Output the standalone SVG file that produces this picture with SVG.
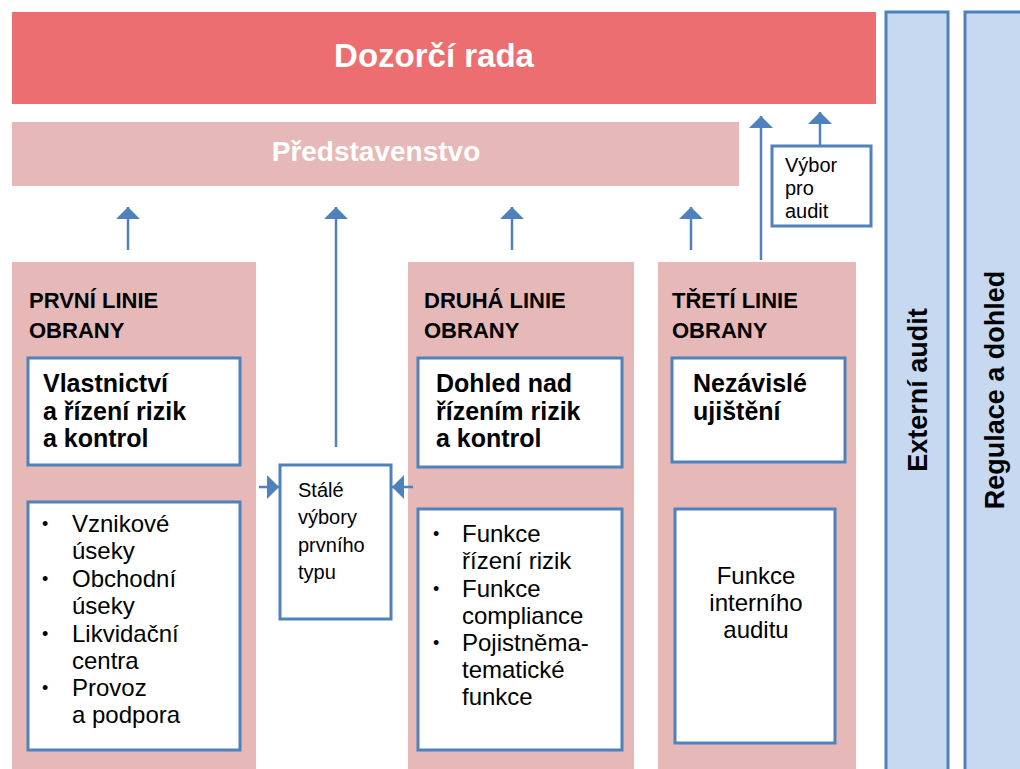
<svg xmlns="http://www.w3.org/2000/svg" width="1020" height="769" viewBox="0 0 1020 769">
<style>
text{font-family:"Liberation Sans",Arial,sans-serif;fill:#000}
.panel{fill:#E6B8B7}
.box{fill:#fff;stroke:#4F81BD;stroke-width:3}
.col{fill:#C6D9F1;stroke:#4F81BD;stroke-width:3}
.conn{stroke:#4F81BD;stroke-width:2.5;fill:none;marker-end:url(#ah)}
.head{font-weight:bold;font-size:22px}
.title{font-weight:bold;font-size:25px}
.item{font-size:24px}
.bul{font-size:18px}
.small{font-size:20px}
</style>
<defs>
<marker id="ah" markerUnits="userSpaceOnUse" markerWidth="24" markerHeight="24" viewBox="0 0 24 24" refX="12" refY="12" orient="auto">
<path d="M0,0 L12,12 L0,24 Z" fill="#4F81BD"/>
</marker>
</defs>
<g id="dozorci-rada">
<rect x="12" y="12" width="864" height="92" fill="#EC6E70"/>
<text x="434" y="67" text-anchor="middle" style="font-weight:bold;font-size:33px;fill:#fff">Dozorčí rada</text>
</g>
<g id="predstavenstvo">
<rect x="12" y="122" width="727" height="64" fill="#E6B8B7"/>
<text x="376" y="161" text-anchor="middle" style="font-weight:bold;font-size:28px;fill:#fff">Představenstvo</text>
</g>
<g id="externi-audit">
<rect class="col" x="886" y="12" width="62" height="770"/>
<text transform="translate(927,390) rotate(-90)" text-anchor="middle" style="font-weight:bold;font-size:27px">Externí audit</text>
</g>
<g id="regulace">
<rect class="col" x="965" y="12" width="70" height="770"/>
<text transform="translate(1004,390) rotate(-90)" text-anchor="middle" style="font-weight:bold;font-size:27px">Regulace a dohled</text>
</g>
<g id="vybor-pro-audit">
<rect class="box" x="772" y="146" width="99" height="80" stroke-width="2.5"/>
<text class="small" x="785" y="172">Výbor</text>
<text class="small" x="785" y="195">pro</text>
<text class="small" x="785" y="218">audit</text>
</g>
<g id="prvni-linie">
<rect class="panel" x="12" y="262" width="244" height="510"/>
<text class="head" x="29" y="308">PRVNÍ LINIE</text>
<text class="head" x="29" y="338">OBRANY</text>
</g>
<g id="vlastnictvi">
<rect class="box" x="28" y="358" width="212" height="107"/>
<text class="title" x="43" y="392">Vlastnictví</text>
<text class="title" x="43" y="420">a řízení rizik</text>
<text class="title" x="43" y="447">a kontrol</text>
</g>
<g id="prvni-seznam">
<rect class="box" x="28" y="502" width="212" height="248"/>
<g class="item">
<text class="bul" x="42" y="530">•</text><text x="72" y="532">Vznikové</text>
<text x="72" y="559">úseky</text>
<text class="bul" x="42" y="585">•</text><text x="72" y="587">Obchodní</text>
<text x="72" y="614">úseky</text>
<text class="bul" x="42" y="640">•</text><text x="72" y="642">Likvidační</text>
<text x="72" y="669">centra</text>
<text class="bul" x="42" y="694">•</text><text x="72" y="696">Provoz</text>
<text x="72" y="723">a podpora</text>
</g>
</g>
<g id="stale-vybory">
<rect class="box" x="280" y="465" width="111" height="154" stroke-width="2.5"/>
<text class="small" x="298" y="497">Stálé</text>
<text class="small" x="298" y="524">výbory</text>
<text class="small" x="298" y="552">prvního</text>
<text class="small" x="298" y="579">typu</text>
</g>
<g id="druha-linie">
<rect class="panel" x="408" y="262" width="226" height="510"/>
<text class="head" x="424" y="308">DRUHÁ LINIE</text>
<text class="head" x="424" y="338">OBRANY</text>
</g>
<g id="dohled">
<rect class="box" x="418" y="358" width="204" height="109"/>
<text class="title" x="436" y="392">Dohled nad</text>
<text class="title" x="436" y="420">řízením rizik</text>
<text class="title" x="436" y="447">a kontrol</text>
</g>
<g id="druha-seznam">
<rect class="box" x="418" y="509" width="204" height="241"/>
<g class="item">
<text class="bul" x="433" y="540">•</text><text x="462" y="542">Funkce</text>
<text x="462" y="569">řízení rizik</text>
<text class="bul" x="433" y="595">•</text><text x="462" y="597">Funkce</text>
<text x="462" y="624">compliance</text>
<text class="bul" x="433" y="649">•</text><text x="462" y="651">Pojistněma-</text>
<text x="462" y="678">tematické</text>
<text x="462" y="705">funkce</text>
</g>
</g>
<g id="treti-linie">
<rect class="panel" x="658" y="262" width="198" height="510"/>
<text class="head" x="672" y="308">TŘETÍ LINIE</text>
<text class="head" x="672" y="338">OBRANY</text>
</g>
<g id="nezavisle">
<rect class="box" x="672" y="358" width="173" height="104"/>
<text class="title" x="693" y="392">Nezávislé</text>
<text class="title" x="693" y="420">ujištění</text>
</g>
<g id="interni-audit">
<rect class="box" x="675" y="509" width="160" height="234"/>
<g class="item" text-anchor="middle">
<text x="756" y="584">Funkce</text>
<text x="756" y="611">interního</text>
<text x="756" y="638">auditu</text>
</g>
</g>
<g id="connectors">
<line class="conn" x1="128" y1="250" x2="128" y2="207"/>
<line class="conn" x1="336" y1="447" x2="336" y2="207"/>
<line class="conn" x1="512" y1="250" x2="512" y2="207"/>
<line class="conn" x1="691" y1="250" x2="691" y2="207"/>
<line class="conn" x1="761" y1="260" x2="761" y2="116"/>
<line class="conn" x1="820" y1="145" x2="820" y2="112"/>
<line class="conn" x1="259" y1="487" x2="279" y2="487"/>
<line class="conn" x1="413" y1="487" x2="392" y2="487"/>
</g>
</svg>
